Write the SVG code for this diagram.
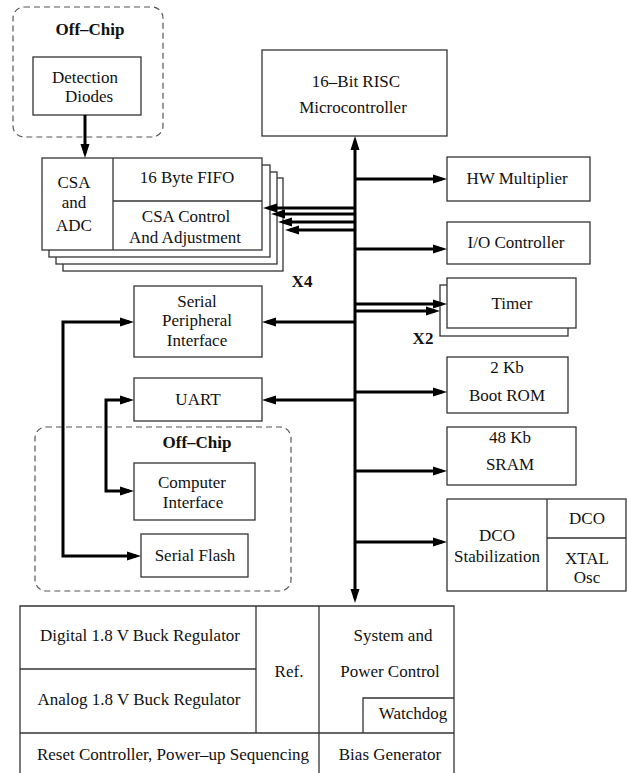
<svg xmlns="http://www.w3.org/2000/svg" width="627" height="773" viewBox="0 0 627 773">
<style>
text{font-family:"Liberation Serif","Times New Roman",serif;font-size:17px;fill:#111;text-anchor:middle}
.b{font-weight:bold}
.box{fill:#fff;stroke:#333;stroke-width:1.3}
.ln{fill:none;stroke:#333;stroke-width:1.3}
.dash{fill:none;stroke:#555;stroke-width:1.2;stroke-dasharray:6 4}
.c{fill:none;stroke:#000;stroke-width:3}
</style>
<defs>
<marker id="ah" markerUnits="userSpaceOnUse" markerWidth="14" markerHeight="10" viewBox="0 0 14 10" refX="9" refY="5" orient="auto-start-reverse">
<path d="M0,0.5 L14,5 L0,9.5 z" fill="#000"/>
</marker>
</defs>
<rect width="627" height="773" fill="#fff"/>

<g id="offchip-top">
<rect class="dash" x="13" y="7" width="150" height="130" rx="11"/>
<text class="b" x="90" y="35">Off–Chip</text>
</g>
<g id="detection-diodes">
<rect class="box" x="33" y="57" width="108" height="58"/>
<text x="85" y="83">Detection</text>
<text x="89" y="102">Diodes</text>
</g>

<g id="csa">
<rect class="box" x="63" y="178" width="220" height="93"/>
<rect class="box" x="56" y="172" width="221" height="92"/>
<rect class="box" x="49" y="165" width="221" height="92"/>
<rect class="box" x="42" y="158" width="220" height="92"/>
<line class="ln" x1="113" y1="158" x2="113" y2="250"/>
<line class="ln" x1="113" y1="201" x2="262" y2="201"/>
<text x="74" y="188">CSA</text>
<text x="74" y="208">and</text>
<text x="74" y="231">ADC</text>
<text x="187" y="183">16 Byte FIFO</text>
<text x="186" y="222">CSA Control</text>
<text x="185" y="243">And Adjustment</text>
<text class="b" x="302" y="287">X4</text>
</g>

<g id="microcontroller">
<rect class="box" x="262" y="50" width="185" height="86"/>
<text x="356" y="87">16–Bit RISC</text>
<text x="353" y="113">Microcontroller</text>
</g>

<g id="hw-multiplier">
<rect class="box" x="447" y="157" width="143" height="44"/>
<text x="517" y="184">HW Multiplier</text>
</g>
<g id="io-controller">
<rect class="box" x="447" y="222" width="143" height="42"/>
<text x="516" y="248">I/O Controller</text>
</g>
<g id="timer">
<rect class="box" x="440" y="285" width="128" height="51"/>
<rect class="box" x="447" y="278" width="129" height="50"/>
<text x="512" y="309">Timer</text>
<text class="b" x="423" y="344">X2</text>
</g>
<g id="boot-rom">
<rect class="box" x="447" y="357" width="121" height="56"/>
<text x="507" y="373">2 Kb</text>
<text x="507" y="401">Boot ROM</text>
</g>
<g id="sram">
<rect class="box" x="447" y="427" width="129" height="58"/>
<text x="510" y="443">48 Kb</text>
<text x="510" y="470">SRAM</text>
</g>
<g id="dco">
<rect class="box" x="447" y="499" width="179" height="92"/>
<line class="ln" x1="547" y1="499" x2="547" y2="591"/>
<line class="ln" x1="547" y1="538" x2="626" y2="538"/>
<text x="497" y="541">DCO</text>
<text x="497" y="562">Stabilization</text>
<text x="587" y="524">DCO</text>
<text x="587" y="564">XTAL</text>
<text x="587" y="583">Osc</text>
</g>

<g id="spi">
<rect class="box" x="134" y="286" width="128" height="71"/>
<text x="197" y="307">Serial</text>
<text x="197" y="326">Peripheral</text>
<text x="197" y="346">Interface</text>
</g>
<g id="uart">
<rect class="box" x="134" y="378" width="128" height="43"/>
<text x="198" y="405">UART</text>
</g>
<g id="offchip-bottom">
<rect class="dash" x="35" y="427" width="256" height="164" rx="11"/>
<text class="b" x="197" y="448">Off–Chip</text>
</g>
<g id="computer-interface">
<rect class="box" x="134" y="463" width="121" height="57"/>
<text x="192" y="488">Computer</text>
<text x="193" y="508">Interface</text>
</g>
<g id="serial-flash">
<rect class="box" x="141" y="534" width="107" height="43"/>
<text x="195" y="561">Serial Flash</text>
</g>

<g id="power-block">
<path class="ln" d="M20,775 V606 H454 V775"/>
<line class="ln" x1="20" y1="669" x2="256" y2="669"/>
<line class="ln" x1="256" y1="606" x2="256" y2="733"/>
<line class="ln" x1="319" y1="606" x2="319" y2="775"/>
<line class="ln" x1="20" y1="733" x2="454" y2="733"/>
<path class="ln" d="M363,733 V698 H454"/>
<text x="140" y="641">Digital 1.8 V Buck Regulator</text>
<text x="139" y="705">Analog 1.8 V Buck Regulator</text>
<text x="289" y="677">Ref.</text>
<text x="393" y="641">System and</text>
<text x="390" y="677">Power Control</text>
<text x="413" y="719">Watchdog</text>
<text x="173" y="760">Reset Controller, Power–up Sequencing</text>
<text x="390" y="760">Bias Generator</text>
</g>

<g id="connectors">
<line class="c" x1="85" y1="115" x2="85" y2="153" marker-end="url(#ah)"/>
<line class="c" x1="355" y1="141" x2="355" y2="598" marker-start="url(#ah)" marker-end="url(#ah)"/>
<line class="c" x1="355" y1="179" x2="442" y2="179" marker-end="url(#ah)"/>
<line class="c" x1="355" y1="249" x2="442" y2="249" marker-end="url(#ah)"/>
<line class="c" x1="355" y1="304" x2="442" y2="304" marker-end="url(#ah)"/>
<line class="c" x1="355" y1="311" x2="435" y2="311" marker-end="url(#ah)"/>
<line class="c" x1="355" y1="392" x2="442" y2="392" marker-end="url(#ah)"/>
<line class="c" x1="355" y1="471" x2="442" y2="471" marker-end="url(#ah)"/>
<line class="c" x1="355" y1="542" x2="442" y2="542" marker-end="url(#ah)"/>
<line class="c" x1="355" y1="208" x2="268" y2="208" marker-end="url(#ah)"/>
<line class="c" x1="355" y1="214" x2="276" y2="214" marker-end="url(#ah)"/>
<line class="c" x1="355" y1="222" x2="283" y2="222" marker-end="url(#ah)"/>
<line class="c" x1="355" y1="230" x2="290" y2="230" marker-end="url(#ah)"/>
<line class="c" x1="355" y1="322" x2="267" y2="322" marker-end="url(#ah)"/>
<line class="c" x1="355" y1="400" x2="267" y2="400" marker-end="url(#ah)"/>
<path class="c" d="M129,322 H63 V556 H136" marker-start="url(#ah)" marker-end="url(#ah)"/>
<path class="c" d="M129,400 H106 V491 H129" marker-start="url(#ah)" marker-end="url(#ah)"/>
</g>
</svg>
